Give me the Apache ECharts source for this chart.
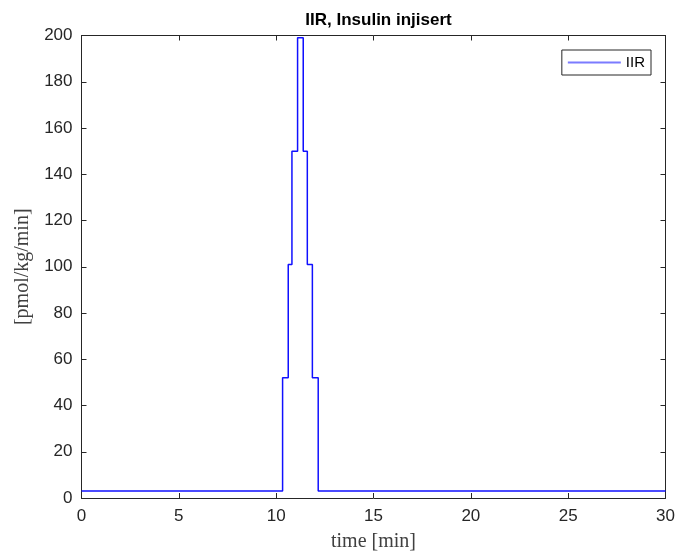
<!DOCTYPE html>
<html>
<head>
<meta charset="utf-8">
<script src="https://cdn.jsdelivr.net/npm/echarts@6/dist/echarts.min.js"></script>
<style>
  html, body { margin: 0; padding: 0; background: #fff; }
  #chart { width: 678px; height: 554px; }
</style>
</head>
<body>
<div id="chart"></div>
<script>
// step change times [min] and the IIR level that starts at each one
const stepTimes = [0, 10.33, 10.62, 10.81, 11.10, 11.39, 11.60, 11.86, 12.16, 30];
const iirLevels = [3, 52, 101, 150, 199, 150, 101, 52, 3, 3];

const xTicks = [0, 5, 10, 15, 20, 25, 30];
const yTicks = [0, 20, 40, 60, 80, 100, 120, 140, 160, 180, 200];

const axisColor = '#262626';
const chart = echarts.init(document.getElementById('chart'));

const seriesData = stepTimes.map((t, i) => [t, iirLevels[i]]);

// shared axis look, box on all four sides like matlab
function baseAxis(min, max, step, extra) {
  return Object.assign({
    type: 'value',
    min: min,
    max: max,
    interval: step,
    axisLine: { show: true, onZero: false, lineStyle: { color: axisColor, width: 1 } },
    axisTick: { show: true, inside: true, length: 5, lineStyle: { color: axisColor } },
    splitLine: { show: false }
  }, extra);
}

chart.setOption({
  animation: false,
  backgroundColor: '#fff',
  title: {
    text: 'IIR, Insulin injisert',
    left: 373.5,
    top: 7,
    textAlign: 'center',
    textStyle: { fontFamily: 'Liberation Sans', fontSize: 17, fontWeight: 'bold', color: '#000' }
  },
  grid: { left: 81.5, right: 12.5, top: 35.5, bottom: 56, outerBoundsMode: 'none', containLabel: false },
  legend: {
    show: true,
    right: 27,
    top: 50,
    itemWidth: 53,
    itemHeight: 2,
    padding: [5, 6, 5, 6],
    borderColor: axisColor,
    borderWidth: 1,
    backgroundColor: '#fff',
    icon: 'rect',
    itemStyle: { color: '#7b7bff' },
    data: ['IIR'],
    textStyle: { fontFamily: 'Liberation Sans', fontSize: 15, color: '#000' }
  },
  xAxis: [
    baseAxis(xTicks[0], xTicks[xTicks.length - 1], 5, {
      position: 'bottom',
      name: 'time [min]',
      nameLocation: 'middle',
      nameGap: 34,
      nameTextStyle: { fontFamily: 'Liberation Serif', fontSize: 20, color: '#404040' },
      axisLabel: { margin: 10, fontFamily: 'Liberation Sans', fontSize: 17, color: axisColor }
    }),
    baseAxis(xTicks[0], xTicks[xTicks.length - 1], 5, {
      position: 'top',
      axisLabel: { show: false }
    })
  ],
  yAxis: [
    baseAxis(yTicks[0], yTicks[yTicks.length - 1], 20, {
      position: 'left',
      name: '[pmol/kg/min]',
      nameLocation: 'middle',
      nameGap: 46,
      nameTextStyle: { fontFamily: 'Liberation Serif', fontSize: 20, color: '#404040' },
      axisLabel: { margin: 9, fontFamily: 'Liberation Sans', fontSize: 17, color: axisColor }
    }),
    baseAxis(yTicks[0], yTicks[yTicks.length - 1], 20, {
      position: 'right',
      axisLabel: { show: false }
    })
  ],
  series: [{
    name: 'IIR',
    type: 'line',
    step: 'end',
    showSymbol: false,
    symbol: 'none',
    data: seriesData,
    lineStyle: { color: '#1010ff', width: 1.5 },
    itemStyle: { color: '#1010ff' }
  }]
});
</script>
</body>
</html>
